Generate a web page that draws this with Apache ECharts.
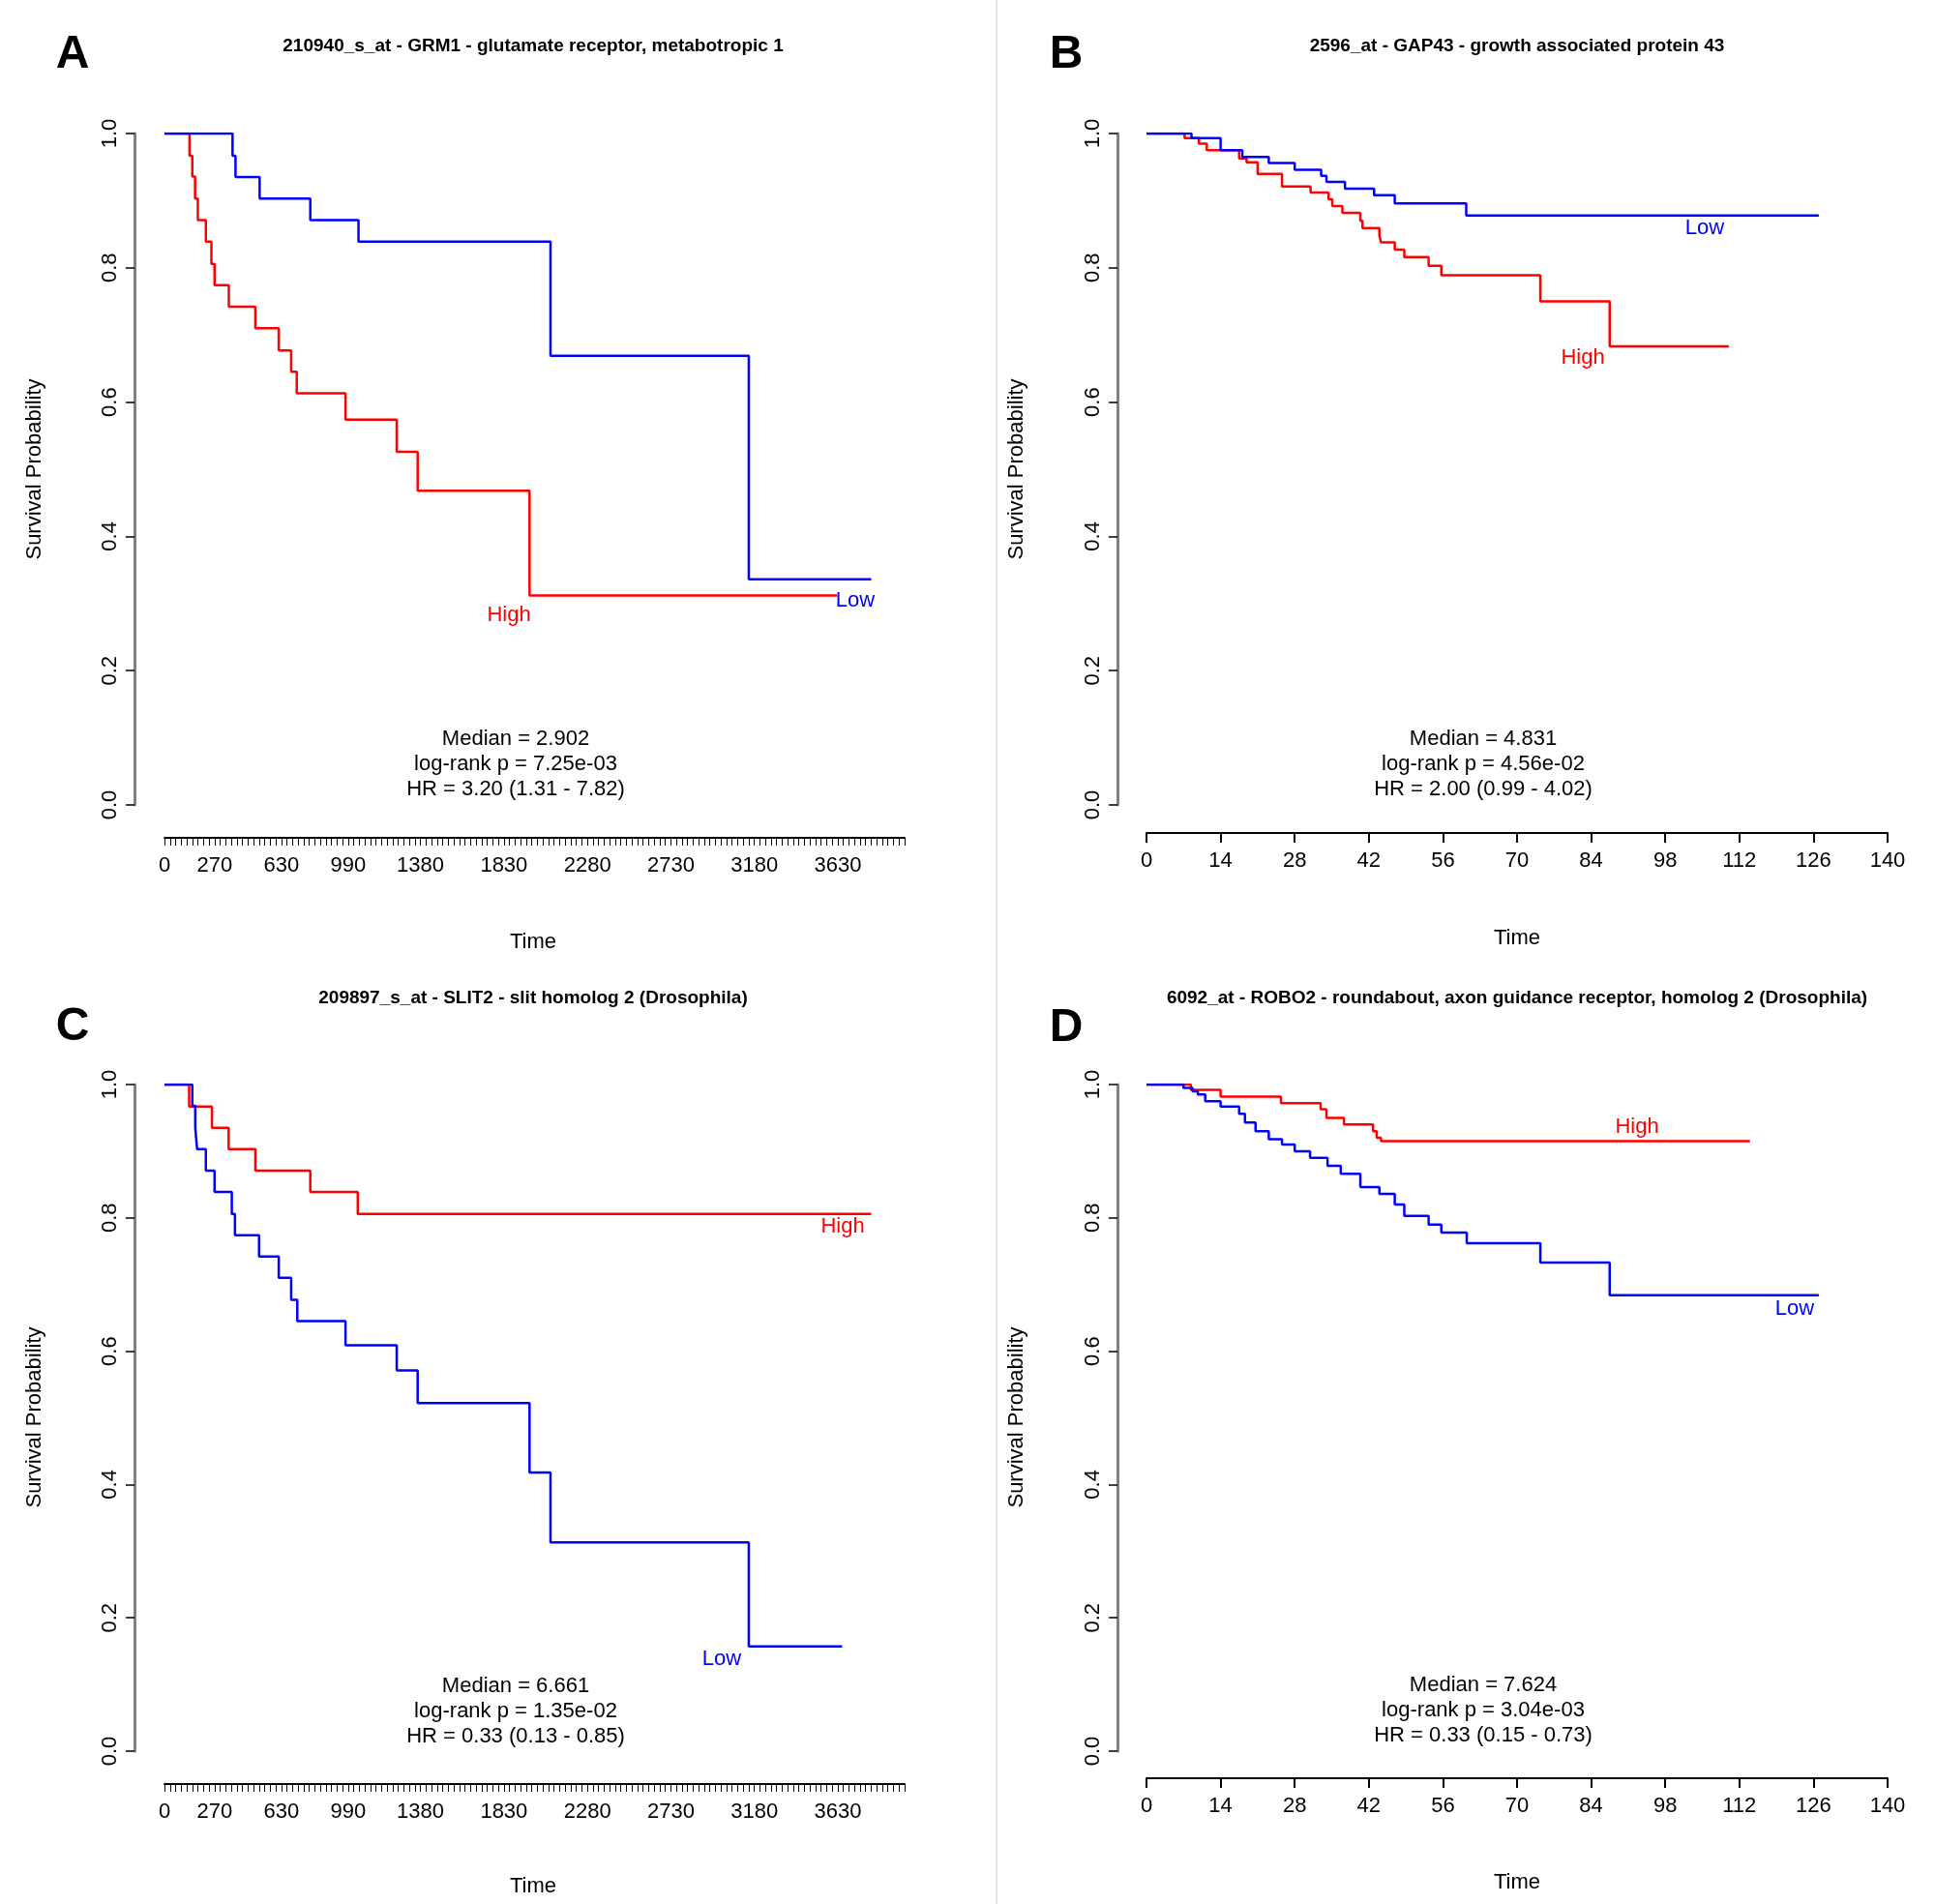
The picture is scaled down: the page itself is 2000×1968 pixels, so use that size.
<!DOCTYPE html>
<html><head><meta charset="utf-8">
<script src="https://cdn.jsdelivr.net/npm/echarts@6/dist/echarts.min.js"></script>
<style>html,body{margin:0;padding:0;background:#fff}#c{width:2000px;height:1968px}</style>
</head><body><div id="c"></div>
<script>
// ---- data ----
const aLowT  = [0,367,383,513,786,1046,2081,3150,3810];
const aLowS  = [1,0.967,0.935,0.903,0.871,0.839,0.669,0.336,0.336];
const aHighT = [0,135,150,165,180,223,253,270,347,490,616,683,713,976,1252,1365,1968,3626];
const aHighS = [1,0.967,0.936,0.903,0.871,0.839,0.806,0.774,0.742,0.710,0.677,0.645,0.613,0.574,0.526,0.468,0.312,0.312];

const bLowT  = [0,8.5,14.0,18.1,23.1,28.0,33.0,34.0,37.5,43.0,46.9,60.4,127];
const bLowS  = [1,0.993,0.975,0.965,0.956,0.946,0.937,0.928,0.918,0.908,0.896,0.878,0.878];
const bHighT = [0,7.2,9.9,11.4,17.5,18.9,21.0,25.6,31.0,34.4,35.1,37.0,40.4,40.8,44.0,44.3,46.9,48.7,53.3,55.7,74.4,87.5,110];
const bHighS = [1,0.993,0.985,0.975,0.963,0.957,0.940,0.921,0.912,0.902,0.892,0.882,0.870,0.859,0.848,0.838,0.827,0.816,0.803,0.789,0.750,0.683,0.683];

const cHighT = [0,133,256,346,490,786,1042,3810];
const cHighS = [1,0.967,0.935,0.903,0.871,0.839,0.806,0.806];
const cLowT  = [0,150,166,176,223,270,363,380,510,616,683,716,976,1252,1365,1968,2081,3150,3653];
const cLowS  = [1,0.968,0.935,0.903,0.871,0.839,0.806,0.774,0.742,0.710,0.677,0.645,0.609,0.571,0.522,0.418,0.313,0.157,0.157];

const dHighT = [0,8.4,14.0,25.4,32.9,34.0,37.3,42.8,43.5,44.3,114];
const dHighS = [1,0.992,0.982,0.972,0.963,0.950,0.940,0.930,0.920,0.915,0.915];
const dLowT  = [0,7,8.7,9.7,11.1,14,17.5,18.6,20.6,23.1,25.6,28,30.9,34.2,36.7,40.4,44,46.9,48.7,53.3,55.7,60.5,74.4,87.5,127];
const dLowS  = [1,0.995,0.990,0.985,0.975,0.967,0.956,0.943,0.930,0.918,0.910,0.900,0.890,0.878,0.866,0.846,0.836,0.820,0.803,0.790,0.778,0.762,0.733,0.684,0.684];

const longTimeLabels = [0,270,630,990,1380,1830,2280,2730,3180,3630];
const shortTimeLabels = [0,14,28,42,56,70,84,98,112,126,140];

const titles = ['210940_s_at - GRM1 - glutamate receptor, metabotropic 1',
  '2596_at - GAP43 - growth associated protein 43',
  '209897_s_at - SLIT2 - slit homolog 2 (Drosophila)',
  '6092_at - ROBO2 - roundabout, axon guidance receptor, homolog 2 (Drosophila)'];
const stats = [
  ['Median = 2.902','log-rank p = 7.25e-03','HR = 3.20 (1.31 - 7.82)'],
  ['Median = 4.831','log-rank p = 4.56e-02','HR = 2.00 (0.99 - 4.02)'],
  ['Median = 6.661','log-rank p = 1.35e-02','HR = 0.33 (0.13 - 0.85)'],
  ['Median = 7.624','log-rank p = 3.04e-03','HR = 0.33 (0.15 - 0.73)']];
const letters = ['A','B','C','D'];

// ---- layout ----
const F = 'Liberation Sans, Arial, sans-serif';
const panels = [
  {left:170,width:765,top:138,height:694,xo:34,yo:31,max:3990,iv:30,labels:longTimeLabels,
   title:[551,48],letter:[75,57],stat:[533,764],ylab:[36,485],time:[551,974],
   hi:[aHighT,aHighS],lo:[aLowT,aLowS],hiLab:[526,636],loLab:[884,621]},
  {left:1185,width:766,top:138,height:694,xo:29,yo:30,max:140,iv:14,labels:shortTimeLabels,
   title:[1568,48],letter:[1102,57],stat:[1533,764],ylab:[1051,485],time:[1568,970],
   hi:[bHighT,bHighS],lo:[bLowT,bLowS],hiLab:[1636,370],loLab:[1762,236]},
  {left:170,width:765,top:1121,height:689,xo:34,yo:31,max:3990,iv:30,labels:longTimeLabels,
   title:[551,1032],letter:[75,1062],stat:[533,1743],ylab:[36,1465],time:[551,1950],
   hi:[cHighT,cHighS],lo:[cLowT,cLowS],hiLab:[871,1268],loLab:[746,1715]},
  {left:1185,width:766,top:1121,height:689,xo:28,yo:30,max:140,iv:14,labels:shortTimeLabels,
   title:[1568,1032],letter:[1102,1063],stat:[1533,1742],ylab:[1051,1465],time:[1568,1946],
   hi:[dHighT,dHighS],lo:[dLowT,dLowS],hiLab:[1692,1165],loLab:[1855,1353]}
];

const grid=[],xAxis=[],yAxis=[],series=[],graphic=[];
graphic.push({type:'line',shape:{x1:1030,y1:0,x2:1030,y2:1968},style:{stroke:'#e4e4e4',lineWidth:2}});
panels.forEach((p,i)=>{
  grid.push({left:p.left,top:p.top,width:p.width,height:p.height});
  const lab = p.labels;
  xAxis.push({type:'value',gridIndex:i,min:0,max:p.max,interval:p.iv,offset:p.xo,position:'bottom',
    axisLine:{show:true,onZero:false,lineStyle:{color:'#000',width:2}},
    axisTick:{show:true,length:p.iv===30?8:10,lineStyle:{color:'#000',width:p.iv===30?1:2}},
    splitLine:{show:false},
    axisLabel:{show:true,margin:18,fontFamily:F,fontSize:22,color:'#000',
      formatter:v=>lab.indexOf(Math.round(v))>=0?String(Math.round(v)):''}});
  yAxis.push({type:'value',gridIndex:i,min:0,max:1,interval:0.2,offset:p.yo,position:'left',
    axisLine:{show:true,onZero:false,lineStyle:{color:'#808080',width:3}},
    axisTick:{show:true,length:9,lineStyle:{color:'#000',width:1.5}},
    splitLine:{show:false},
    axisLabel:{show:true,rotate:90,margin:14,fontFamily:F,fontSize:22,color:'#000',
      formatter:v=>v.toFixed(1)}});
  const mk=(T,S)=>T.map((t,k)=>[t,S[k]]);
  series.push({type:'line',xAxisIndex:i,yAxisIndex:i,step:'end',symbol:'none',
    data:mk(p.lo[0],p.lo[1]),lineStyle:{color:'#0000ff',width:2.5},z:3});
  series.push({type:'line',xAxisIndex:i,yAxisIndex:i,step:'end',symbol:'none',
    data:mk(p.hi[0],p.hi[1]),lineStyle:{color:'#ff0000',width:2.5},z:2});
  const T=(x,y,text,extra)=>graphic.push({type:'text',x:x,y:y,style:Object.assign({text:text,fontFamily:F,fontSize:22,fill:'#000',align:'center',verticalAlign:'middle'},extra||{})});
  T(p.title[0],p.title[1],titles[i],{fontSize:19,fontWeight:'bold'});
  T(p.letter[0],p.letter[1],letters[i],{fontSize:48,fontWeight:'bold'});
  stats[i].forEach((s,k)=>T(p.stat[0],p.stat[1]+k*26,s));
  T(p.time[0],p.time[1],'Time');
  graphic.push({type:'text',x:p.ylab[0],y:p.ylab[1],rotation:Math.PI/2,
    style:{text:'Survival Probability',fontFamily:F,fontSize:22,fill:'#000',align:'center',verticalAlign:'middle'}});
  T(p.hiLab[0],p.hiLab[1],'High',{fill:'#ff0000'});
  T(p.loLab[0],p.loLab[1],'Low',{fill:'#0000ff'});
});

const chart = echarts.init(document.getElementById('c'));
chart.setOption({animation:false,backgroundColor:'#fff',grid,xAxis,yAxis,series,graphic});
</script></body></html>
